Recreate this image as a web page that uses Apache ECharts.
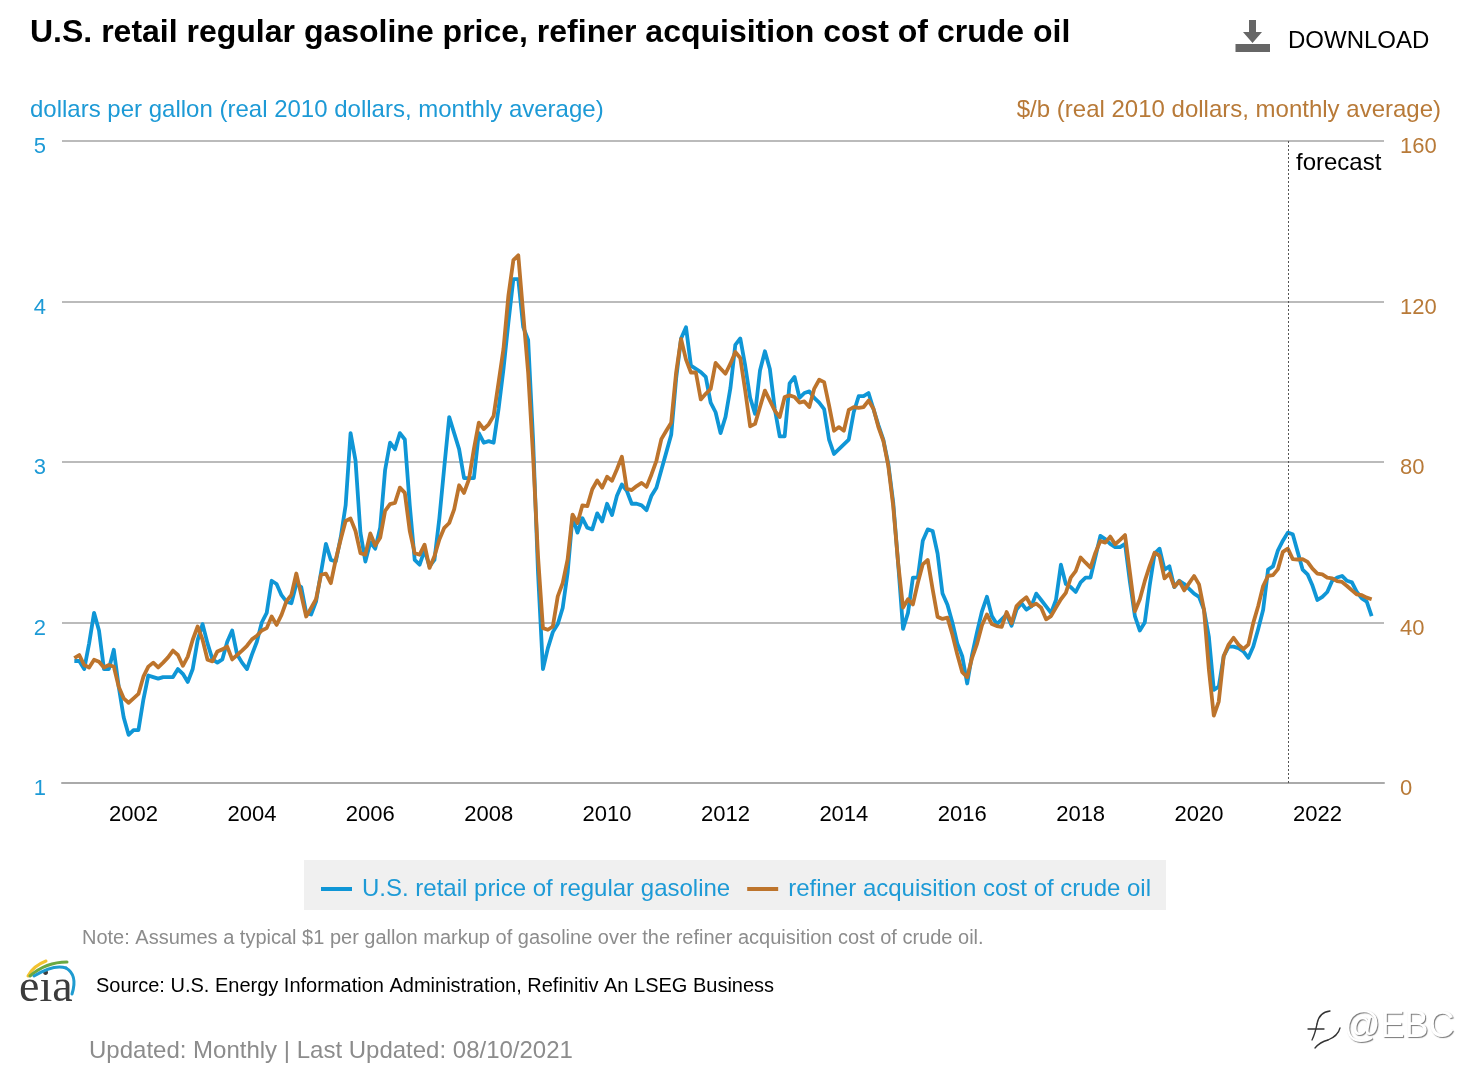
<!DOCTYPE html>
<html>
<head>
<meta charset="utf-8">
<title>U.S. retail regular gasoline price</title>
<script src="https://cdn.jsdelivr.net/npm/echarts@6/dist/echarts.min.js"></script>
<style>
html, body { margin: 0; padding: 0; background: #fff; }
#main { width: 1470px; height: 1084px; }
</style>
</head>
<body>
<div id="main"></div>
<script>
// monthly values Jan 2001 - Dec 2022, one row per year
var gasoline = [
	1.76,1.76,1.71,1.87,2.06,1.95,1.71,1.71,1.83,1.60,1.41,1.30,
	1.33,1.33,1.52,1.67,1.66,1.65,1.66,1.66,1.66,1.71,1.68,1.63,
	1.71,1.89,1.99,1.87,1.77,1.75,1.77,1.88,1.95,1.80,1.75,1.71,
	1.80,1.88,2.00,2.06,2.26,2.24,2.17,2.13,2.12,2.24,2.22,2.06,
	2.05,2.13,2.31,2.49,2.39,2.38,2.53,2.73,3.18,3.01,2.56,2.38,
	2.50,2.46,2.59,2.95,3.12,3.08,3.18,3.14,2.73,2.39,2.36,2.45,
	2.35,2.39,2.65,2.97,3.28,3.18,3.08,2.90,2.90,2.90,3.18,3.12,
	3.13,3.12,3.33,3.58,3.87,4.14,4.14,3.84,3.76,3.14,2.31,1.71,
	1.84,1.94,1.99,2.09,2.31,2.66,2.56,2.65,2.59,2.58,2.68,2.63,
	2.74,2.67,2.79,2.86,2.82,2.74,2.74,2.73,2.70,2.79,2.84,2.95,
	3.06,3.17,3.52,3.77,3.84,3.60,3.58,3.56,3.53,3.37,3.31,3.18,
	3.28,3.46,3.73,3.77,3.60,3.40,3.30,3.57,3.69,3.58,3.33,3.16,
	3.16,3.49,3.53,3.40,3.43,3.44,3.40,3.37,3.33,3.14,3.05,3.08,
	3.11,3.14,3.31,3.41,3.41,3.43,3.33,3.23,3.14,2.99,2.75,2.37,
	1.96,2.06,2.28,2.28,2.51,2.58,2.57,2.43,2.18,2.11,2.00,1.87,
	1.79,1.62,1.80,1.94,2.07,2.16,2.04,1.99,2.02,2.05,1.98,2.08,
	2.12,2.08,2.10,2.18,2.14,2.10,2.06,2.14,2.36,2.24,2.22,2.19,
	2.25,2.28,2.28,2.41,2.54,2.52,2.49,2.47,2.47,2.49,2.25,2.04,
	1.95,2.00,2.23,2.43,2.46,2.33,2.35,2.22,2.26,2.24,2.21,2.18,
	2.16,2.08,1.91,1.58,1.60,1.79,1.85,1.85,1.84,1.82,1.78,1.85,
	1.96,2.08,2.33,2.35,2.45,2.51,2.56,2.55,2.44,2.33,2.30,2.23,
	2.14,2.16,2.19,2.26,2.28,2.29,2.26,2.25,2.19,2.15,2.13,2.04
];
var crude = [
	31.1,31.9,29.4,28.8,30.7,30.2,28.8,29.4,29,24,21.1,20,
	21.1,22.2,26.5,29,30,28.8,30,31.3,33,31.9,29.2,31.5,
	35.7,39,35.7,30.7,30.3,32.8,33.3,34,30.8,31.9,33,34.2,
	35.8,36.7,38,38.6,41.5,39.4,41.9,45.3,46.9,52.2,46.9,41.5,
	43.6,45.8,51.9,52.2,49.8,55.7,60.7,65.3,65.9,62.8,57.3,56.9,
	62.2,59.2,61.1,67.8,69.5,69.8,73.6,72.3,62.8,57.3,56.9,59.4,
	53.6,56.5,60.7,63.6,64.8,68.2,74.2,72.3,75.7,83.2,89.8,88.2,
	89.4,91.5,99.8,108.2,121.5,130.3,131.5,116.9,102.3,81.5,56.5,38.6,
	38.2,39,46.5,49.8,55.7,66.9,64.8,69.2,69,73.2,75.4,73.6,
	76.3,75.3,78.2,81.3,73.3,73,74,74.8,73.8,76.9,80.3,85.7,
	87.8,89.8,102.3,110.7,105.5,102.3,102.3,95.6,97,98.2,104.7,103.3,
	102,104.5,107.4,105.9,97.8,88.9,89.5,93.7,97.8,95.3,92.8,91.2,
	96.2,96.6,96.2,94.8,95.1,93.7,98.3,100.5,99.9,94.1,87.8,88.7,
	87.8,93,93.7,93.5,93.7,95.3,93.3,88.7,85.3,79.1,69.1,54.9,
	43.7,45.8,44.5,49.9,54.5,55.6,48.3,41.4,40.9,41.2,37,32,
	27.6,26.4,31.2,34.7,39.3,42,39.6,39.1,38.9,42.6,39.8,44.1,
	45.3,46.3,44.1,44.7,43.7,40.8,41.6,43.7,45.8,47.4,51.2,52.8,
	56.2,54.9,53.7,57.4,60.3,59.9,61.4,59.5,60.6,61.8,52.4,42.8,
	45.8,50.3,54.1,57.4,56.6,51,52.2,48.9,50.3,48,49.8,51.6,
	49.5,43.3,28.3,16.8,20.3,31.6,34.5,36.2,34.5,33.4,34.5,39.9,
	44.1,49.1,51.6,51.8,53.3,57.6,58.4,55.8,55.7,55.8,55.1,53.4,
	52.2,52,51.2,51,50.3,50.1,49.1,48,47,46.8,46.2,45.8
];
var leadMonths = ['2000-11', '2000-12']; // blank room before the first point
var tailMonths = ['2023-01', '2023-02']; // and after the last one
var forecastStart = '2021-07';

var months = leadMonths.slice();
for (var y = 2001; y <= 2022; y++) {
	for (var m = 1; m <= 12; m++) {
		months.push(y + '-' + (m < 10 ? '0' + m : m));
	}
}
months = months.concat(tailMonths);

function pad(values) {
	var front = leadMonths.map(function () { return null; });
	var back = tailMonths.map(function () { return null; });
	return front.concat(values, back);
}

// only January of even years gets a tick and a label
function evenYear(index, value) {
	return value.slice(5) === '01' && parseInt(value, 10) % 2 === 0;
}

var BLUE = '#0f96d6';
var BROWN = '#bd742c';
var FONT = '"Liberation Sans", Arial, sans-serif';

// small helper for the hand drawn decorations (logo, watermark)
function curve(x1, y1, cx, cy, x2, y2, color, width) {
	return {
		type: 'bezierCurve',
		shape: { x1: x1, y1: y1, cpx1: cx, cpy1: cy, x2: x2, y2: y2 },
		style: { fill: 'none', stroke: color, lineWidth: width, lineCap: 'round' }
	};
}

var chart = echarts.init(document.getElementById('main'));

var option = {
	animation: false,
	backgroundColor: '#fff',
	textStyle: { fontFamily: FONT },
	title: {
		text: 'U.S. retail regular gasoline price, refiner acquisition cost of crude oil',
		left: 30,
		top: 17,
		padding: 0,
		textStyle: { fontFamily: FONT, fontSize: 32, fontWeight: 'bold', color: '#000' }
	},
	grid: { left: 62, right: 86, top: 141, bottom: 301 },
	legend: {
		left: 304,
		top: 860,
		padding: [17, 15, 9, 17],
		backgroundColor: '#f0f0f0',
		icon: 'rect',
		itemWidth: 31,
		itemHeight: 4,
		itemGap: 17,
		textStyle: { color: '#1d9ad6', fontSize: 24, fontFamily: FONT, padding: [0, 0, 0, 5] },
		data: ['U.S. retail price of regular gasoline', 'refiner acquisition cost of crude oil']
	},
	xAxis: {
		type: 'category',
		boundaryGap: true,
		data: months,
		axisLine: { lineStyle: { color: '#aaa', width: 2 } },
		axisTick: { alignWithLabel: true, interval: evenYear, length: 9, lineStyle: { color: '#aaa', width: 2 } },
		axisLabel: {
			interval: evenYear,
			margin: 21,
			fontSize: 22,
			color: '#000',
			formatter: function (value) { return value.slice(0, 4); }
		}
	},
	yAxis: [
		{
			type: 'value',
			min: 1,
			max: 5,
			interval: 1,
			position: 'left',
			name: 'dollars per gallon (real 2010 dollars, monthly average)',
			nameLocation: 'end',
			nameGap: 19,
			nameTextStyle: { color: '#1d9ad6', fontSize: 24, fontFamily: FONT, align: 'left', padding: [0, 0, 0, -32] },
			axisLine: { show: false },
			axisTick: { show: false },
			axisLabel: { color: '#1d9ad6', fontSize: 22, margin: 16, padding: [0, 0, 0, 0], verticalAlign: 'top', lineHeight: 12 },
			splitLine: { lineStyle: { color: '#bbb', width: 2 } }
		},
		{
			type: 'value',
			min: 0,
			max: 160,
			interval: 40,
			position: 'right',
			name: '$/b (real 2010 dollars, monthly average)',
			nameLocation: 'end',
			nameGap: 19,
			nameTextStyle: { color: '#b87a38', fontSize: 24, fontFamily: FONT, align: 'right', padding: [0, -57, 0, 0] },
			axisLine: { show: false },
			axisTick: { show: false },
			axisLabel: { color: '#b87a38', fontSize: 22, margin: 16, padding: [0, 0, 0, 0], verticalAlign: 'top', lineHeight: 12 },
			splitLine: { show: false }
		}
	],
	series: [
		{
			name: 'U.S. retail price of regular gasoline',
			type: 'line',
			yAxisIndex: 0,
			showSymbol: false,
			symbol: 'none',
			itemStyle: { color: BLUE },
			lineStyle: { color: BLUE, width: 3.8, join: 'round' },
			data: pad(gasoline),
			markLine: {
				silent: true,
				symbol: 'none',
				label: { show: false },
				lineStyle: { color: '#555', type: [2, 2], width: 1 },
				data: [{ xAxis: forecastStart }]
			}
		},
		{
			name: 'refiner acquisition cost of crude oil',
			type: 'line',
			yAxisIndex: 1,
			showSymbol: false,
			symbol: 'none',
			itemStyle: { color: BROWN },
			lineStyle: { color: BROWN, width: 3.8, join: 'round' },
			data: pad(crude)
		}
	],
	graphic: [
		// forecast tag
		{ type: 'text', x: 1296, y: 151, style: { text: 'forecast', fill: '#000', font: '24px ' + FONT } },
		// download button
		{ type: 'polygon', shape: { points: [[1249, 20], [1256, 20], [1256, 32], [1262, 32], [1252.5, 43], [1243, 32], [1249, 32]] }, style: { fill: '#666' } },
		{ type: 'rect', shape: { x: 1235.5, y: 44, width: 34.5, height: 8 }, style: { fill: '#666' } },
		{ type: 'text', x: 1288, y: 29, style: { text: 'DOWNLOAD', fill: '#000', font: '24px ' + FONT } },
		// notes under the chart
		{ type: 'text', x: 82, y: 928, style: { text: 'Note: Assumes a typical $1 per gallon markup of gasoline over the refiner acquisition cost of crude oil.', fill: '#8c8c8c', font: '20px ' + FONT } },
		{ type: 'text', x: 96, y: 976, style: { text: 'Source: U.S. Energy Information Administration, Refinitiv An LSEG Business', fill: '#000', font: '20px ' + FONT } },
		{ type: 'text', x: 89, y: 1039, style: { text: 'Updated: Monthly | Last Updated: 08/10/2021', fill: '#8c8c8c', font: '24px ' + FONT } },
		// eia logo
		{ type: 'text', x: 19, y: 966, style: { text: 'eia', fill: '#3c3c3c', font: '46px "Liberation Serif", serif' } },
		curve(28, 976, 33, 966, 46, 961, '#f2c230', 3),
		curve(30, 976, 46, 962, 67, 962, '#6aa842', 3),
		curve(34, 976, 54, 964, 66, 968, '#1f9bd0', 3),
		curve(66, 968, 78, 975, 72, 994, '#1f9bd0', 3),
		// watermark
		curve(1330, 1011, 1319, 1012, 1317, 1024, '#333', 1.3),
		curve(1317, 1024, 1315, 1034, 1312, 1040, '#333', 1.3),
		curve(1308, 1029, 1316, 1029, 1324, 1029, '#333', 1.3),
		curve(1340, 1028, 1338, 1036, 1328, 1040, '#333', 1.3),
		curve(1328, 1040, 1320, 1042, 1315, 1048, '#333', 1.3),
		{ type: 'text', x: 1344, y: 1009, style: { text: '@EBC', fill: '#fff', font: '36px ' + FONT, textShadowColor: '#777', textShadowOffsetX: 1, textShadowOffsetY: 1, textShadowBlur: 1 } }
	]
};

chart.setOption(option);
</script>
</body>
</html>
